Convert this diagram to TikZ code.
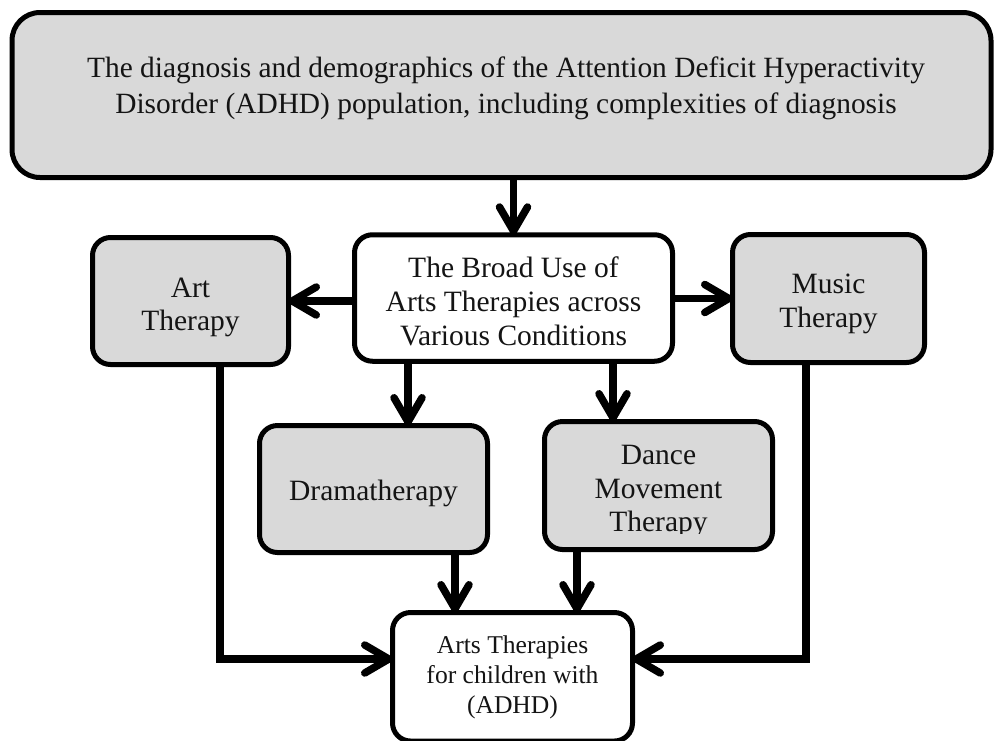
\documentclass[tikz,border=0pt]{standalone}
\usepackage{fontspec}
\setmainfont{Liberation Serif}
\usetikzlibrary{arrows.meta,calc}

\definecolor{boxgray}{HTML}{D9D9D9}
\definecolor{ink}{HTML}{141414}

\begin{document}
\begin{tikzpicture}[x=1pt,y=-1pt,
  card/.style={draw=black, line width=5pt, rounded corners=18pt, inner sep=0pt, outer sep=0pt},
  graycard/.style={card, fill=boxgray},
  whitecard/.style={card, fill=white},
  caption/.style={text=ink, align=center, inner sep=0pt, font=\fontsize{29.5}{34}\selectfont},
  link/.style={line width=7.5pt, draw=black},
  arr/.style={link, -{Straight Barb[length=24pt,width=28pt,round]}},
]
\useasboundingbox (0,0) rectangle (995,740);
\clip (0,0) rectangle (995,740);

% boxes
\node[graycard, rounded corners=28pt, minimum width=979pt, minimum height=165pt] (top) at (501.5,95) {};
\node[whitecard, minimum width=318pt, minimum height=126.5pt] (mid) at (513.5,298) {};
\node[graycard, minimum width=196pt, minimum height=127pt] (art) at (190.5,301) {};
\node[graycard, minimum width=192pt, minimum height=128pt] (music) at (828.5,298.5) {};
\node[graycard, minimum width=228pt, minimum height=127pt] (drama) at (373.5,489) {};
\node[graycard, minimum width=228pt, minimum height=128pt] (dance) at (658.5,485.5) {};
\node[whitecard, minimum width=240pt, minimum height=128.5pt] (bot) at (512.5,676.75) {};

% labels
\node[caption, font=\fontsize{29.4}{36}\selectfont] (toptext) at (506,88.3)
  {The diagnosis and demographics of the Attention Deficit Hyperactivity\\Disorder (ADHD) population, including complexities of diagnosis};
\node[caption] (midtext) at (513.5,301) {The Broad Use of\\Arts Therapies across\\Various Conditions};
\node[caption, font=\fontsize{29.5}{33}\selectfont] (arttext) at (190.5,307) {Art\\Therapy};
\node[caption] (musictext) at (828.5,303.5) {Music\\Therapy};
\node[caption] (dramatext) at (373.5,493) {Dramatherapy};
\begin{scope}
  \clip (544,421) rectangle (773,533.5);
  \node[caption, font=\fontsize{29.5}{33.5}\selectfont] (dancetext) at (658.5,492) {Dance\\Movement\\Therapy};
\end{scope}
\node[caption, font=\fontsize{25.6}{30}\selectfont] (bottext) at (512.5,677) {Arts Therapies\\for children with\\(ADHD)};

% connectors
\draw[arr] (top.south -| mid.north) -- (mid.north);
\draw[arr] (mid.west |- art.east) -- (art.east);
\draw[arr] (mid.east |- music.west) -- (music.west);
\draw[arr] ([xshift=34.5pt]drama.north |- mid.south) -- ([xshift=34.5pt]drama.north);
\draw[arr] ([xshift=-45.5pt]dance.north |- mid.south) -- ([xshift=-45.5pt]dance.north);
\draw[arr] ([xshift=81.5pt]drama.south) -- ([xshift=81.5pt]drama.south |- bot.north);
\draw[arr] ([xshift=-81.5pt]dance.south) -- ([xshift=-81.5pt]dance.south |- bot.north);
\draw[arr] ([xshift=29.5pt]art.south) |- ([yshift=17.75pt]bot.west);
\draw[arr] ([xshift=-22.5pt]music.south) |- ([yshift=17.75pt]bot.east);
\end{tikzpicture}
\end{document}
